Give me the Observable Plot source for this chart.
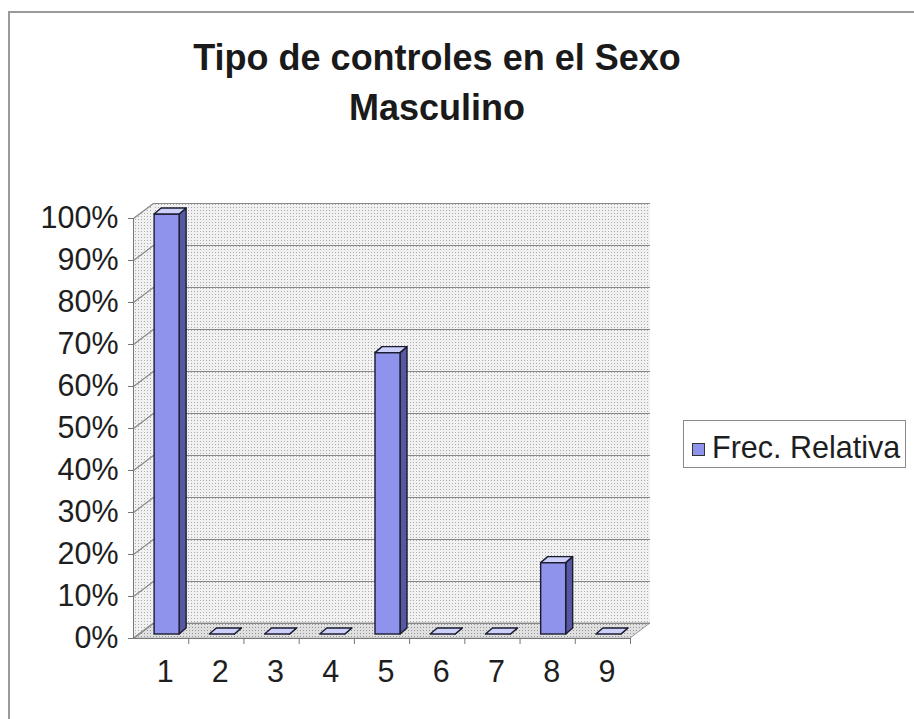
<!DOCTYPE html>
<html><head><meta charset="utf-8">
<script src="https://cdn.jsdelivr.net/npm/d3@7"></script>
<script src="https://cdn.jsdelivr.net/npm/@observablehq/plot@0.6"></script>
<style>
html,body{margin:0;padding:0;background:#fff;}
#wrap{position:relative;width:914px;height:719px;overflow:hidden;font-family:"Liberation Sans",Arial,sans-serif;color:#1e1e1e;}
#frame{position:absolute;left:8px;top:11px;width:920px;height:720px;border-left:2px solid #9a9a9a;border-top:2px solid #9a9a9a;}
#title{position:absolute;left:137px;width:600px;top:33px;text-align:center;font-weight:bold;font-size:36px;line-height:50px;color:#1a1a1a;}
#chart{position:absolute;left:0;top:0;}
#legend{position:absolute;left:683px;top:420px;width:223px;height:48px;box-sizing:border-box;border:1px solid #8a8a8a;background:#fff;}
#legend .sw{position:absolute;left:8px;top:22px;width:11px;height:11px;border:1px solid #333;background:#9093ec;}
#legend .tx{position:absolute;left:28px;top:3px;line-height:46px;font-size:30.5px;white-space:nowrap;color:#1e1e1e;}
</style></head>
<body>
<div id="wrap">
  <div id="frame"></div>
  <div id="chart"></div>
  <div id="title"></div>
  <div id="legend"><div class="sw"></div><div class="tx"></div></div>
</div>
<script>
const categories = [1, 2, 3, 4, 5, 6, 7, 8, 9];
const values = [1.00, 0, 0, 0, 0.67, 0, 0, 0.17, 0];
const yTicks = [0, 0.1, 0.2, 0.3, 0.4, 0.5, 0.6, 0.7, 0.8, 0.9, 1.0];
const seriesName = "Frec. Relativa";
const titleLines = ["Tipo de controles en el Sexo", "Masculino"];

document.getElementById("title").innerHTML = titleLines.join("<br>");
document.querySelector("#legend .tx").textContent = seriesName;

const W = 914, H = 719, mL = 133, mR = 284, mT = 218, mB = 81;
const pxX = (W - mL - mR) / categories.length, pxY = (H - mT - mB);
const wallDX = 20, wallDY = 15;
const ox = wallDX / pxX, oy = wallDY / pxY;
const barHalf = 12.5 / pxX, barDX = 7 / pxX, barDY = 6 / pxY;
const barShift = {dx: 6, dy: -4};
const xa0 = 0.5, xb0 = categories.length + 0.5;
const edge = "#1c1c30";

const bars = categories.map((c, i) => ({c, v: values[i], xa: c - barHalf, xb: c + barHalf}));
const sides = bars.flatMap(b => [
  {c: b.c, x: b.xb, y1: 0, y2: b.v},
  {c: b.c, x: b.xb + barDX, y1: barDY, y2: b.v + barDY}
]);
const tops = bars.flatMap(b => [
  {c: b.c, y: b.v, xa: b.xa, xb: b.xb},
  {c: b.c, y: b.v + barDY, xa: b.xa + barDX, xb: b.xb + barDX}
]);
const boundaries = categories.map(c => c + 0.5);

const svg = Plot.plot({
  width: W, height: H,
  marginLeft: mL, marginRight: mR, marginTop: mT, marginBottom: mB,
  style: {fontFamily: '"Liberation Sans", Arial, sans-serif', color: "#1e1e1e", overflow: "visible", background: "transparent"},
  x: {type: "linear", domain: [xa0, xb0], axis: null},
  y: {type: "linear", domain: [0, 1], axis: null},
  marks: [
    // back wall
    Plot.rect([0], {x1: xa0, x2: xb0, y1: 0, y2: 1, dx: wallDX, dy: -wallDY, fill: "url(#dotsWall)"}),
    // left wall
    Plot.areaY([{x: xa0, y1: 0, y2: 1}, {x: xa0 + ox, y1: oy, y2: 1 + oy}], {x: "x", y1: "y1", y2: "y2", fill: "url(#dotsWall)"}),
    // floor
    Plot.areaX([{y: 0, xa: xa0, xb: xb0}, {y: oy, xa: xa0 + ox, xb: xb0 + ox}], {y: "y", x1: "xa", x2: "xb", fill: "url(#dotsFloor)", stroke: "#9a9a9a"}),
    // gridlines on back wall
    Plot.ruleY(yTicks, {x1: xa0, x2: xb0, dx: wallDX, dy: -wallDY, stroke: "#888", strokeWidth: 1.2}),
    // gridlines on left wall
    Plot.link(yTicks, {x1: xa0, x2: xa0 + ox, y1: d => d, y2: d => d + oy, stroke: "#888", strokeWidth: 1.2}),
    // bars: side, front, top
    Plot.areaY(sides, {x: "x", y1: "y1", y2: "y2", z: "c", fill: "#5658a2", stroke: edge, strokeWidth: 1.4, ...barShift}),
    Plot.rect(bars, {x1: "xa", x2: "xb", y1: 0, y2: "v", fill: "#9093ec", stroke: edge, strokeWidth: 1.4, ...barShift}),
    Plot.areaX(tops, {y: "y", x1: "xa", x2: "xb", z: "c", fill: "#cdd0fa", stroke: edge, strokeWidth: 1.4, ...barShift}),
    // front axis lines
    Plot.ruleX([xa0], {y1: 0, y2: 1, stroke: "#777"}),
    Plot.ruleY([0], {x1: xa0, x2: xb0, stroke: "#777"}),
    // y axis
    Plot.axisY({anchor: "left", ticks: yTicks, tickSize: 5, tickFormat: () => "", stroke: "#777"}),
    Plot.axisY({anchor: "left", ticks: yTicks, tickSize: 0, tickPadding: 15, tickFormat: d3.format(".0%"), fontSize: 30.5, fill: "#1e1e1e"}),
    // x axis
    Plot.axisX({anchor: "bottom", ticks: boundaries, tickSize: 6, tickFormat: () => "", stroke: "#777"}),
    Plot.axisX({anchor: "bottom", ticks: categories, tickSize: 0, tickPadding: 22, dx: 4, tickFormat: d => String(d), fontSize: 30.5, fill: "#1e1e1e"})
  ]
});

const defs = d3.select(svg).insert("defs", ":first-child");
function dots(id, bg, fg) {
  const p = defs.append("pattern").attr("id", id).attr("patternUnits", "userSpaceOnUse").attr("width", 3).attr("height", 3);
  p.append("rect").attr("width", 3).attr("height", 3).attr("fill", bg);
  p.append("rect").attr("width", 1).attr("height", 1).attr("fill", fg);
}
dots("dotsWall", "#f1f1f1", "#aaaaaa");
dots("dotsFloor", "#e0e0e0", "#959595");

document.getElementById("chart").appendChild(svg);
</script>
</body></html>
